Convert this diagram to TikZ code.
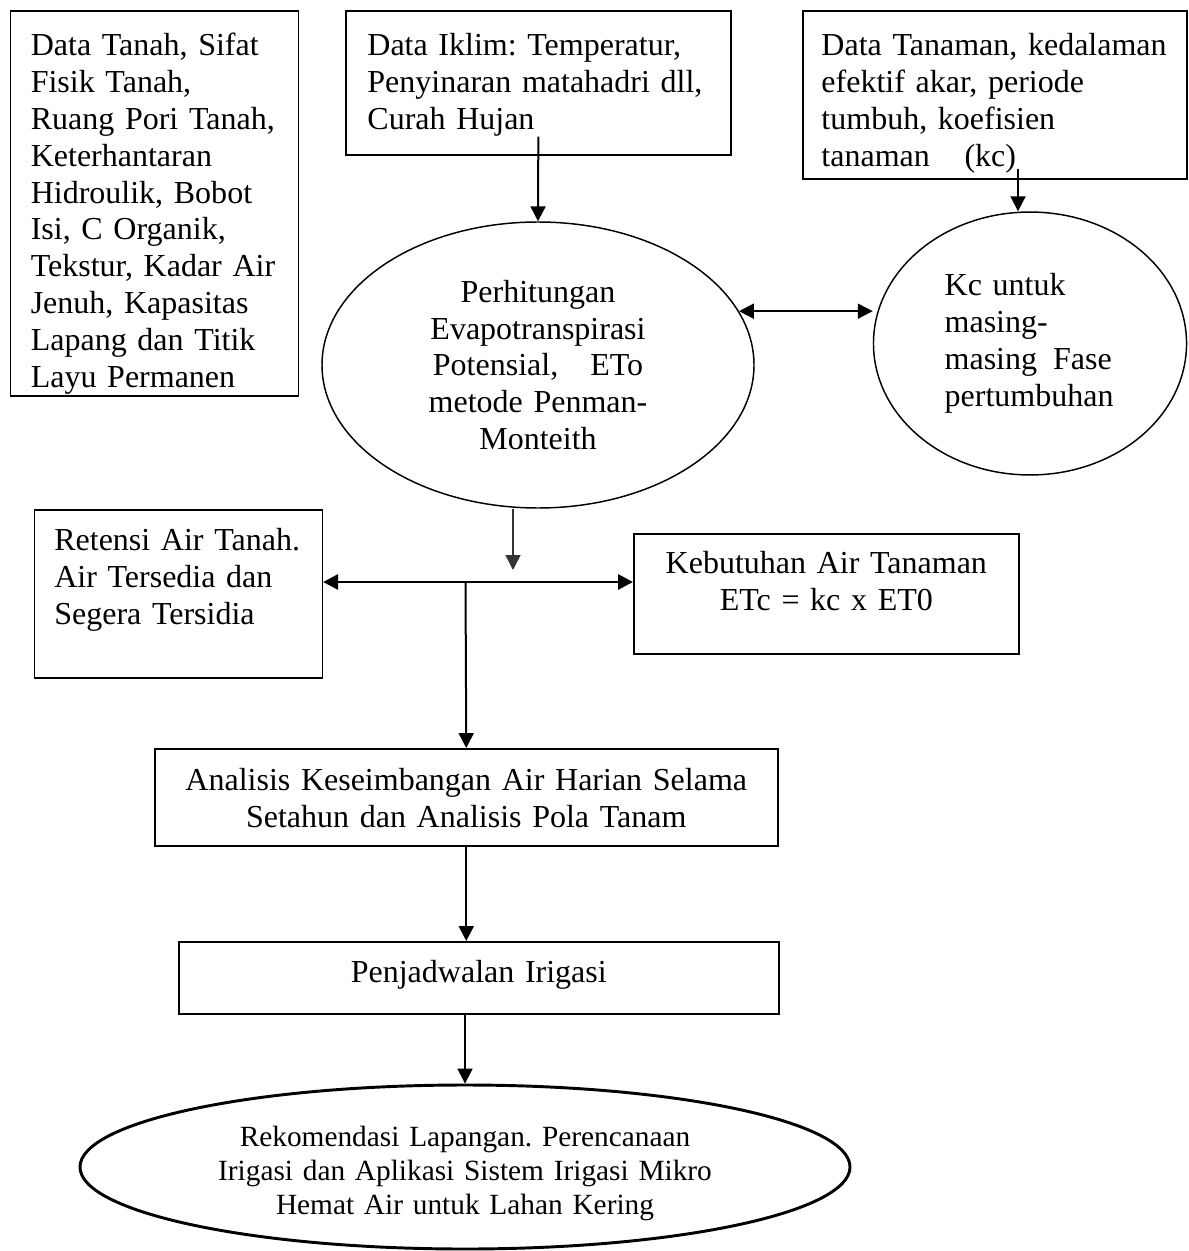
\documentclass[tikz,border=0pt]{standalone}
\usepackage{fontspec}
\setmainfont{Liberation Serif}
\usetikzlibrary{shapes.geometric,arrows.meta,calc}
\frenchspacing

\tikzset{
    databox/.style={draw, line width=0.6pt, rectangle, anchor=north west, align=left, inner ysep=0pt, font=\fontsize{12}{13.8}\selectfont},
    stepbox/.style={databox, align=center},
    calcoval/.style={draw, ellipse, line width=0.55pt, inner sep=0pt, font=\fontsize{12}{13.8}\selectfont},
    flowarrow/.style={line width=0.75pt, -{Triangle[length=5.6pt,width=5.6pt]}},
    bothflow/.style={line width=0.75pt, {Triangle[length=5.6pt,width=5.6pt]}-{Triangle[length=5.6pt,width=5.6pt]}},
}

\begin{document}
\begin{tikzpicture}[x=0.375pt,y=-0.375pt]
        \useasboundingbox (0,0) rectangle (1188,1251);

        %Shape: Rectangle [data tanah]
        \node[databox, text width=92.8pt, inner xsep=7.65pt, text height=16.9pt, text depth=127.5pt] (soil) at (9.6,10) {Data Tanah, Sifat\\ Fisik Tanah,\\ Ruang Pori Tanah,\\ Keterhantaran\\ Hidroulik, Bobot\\ Isi, C Organik,\\ Tekstur, Kadar Air\\ Jenuh, Kapasitas\\ Lapang dan Titik\\ Layu Permanen};
        %Shape: Rectangle [data iklim]
        \node[databox, text width=128.2pt, inner xsep=8.1pt, text height=16.9pt, text depth=37.1pt] (clim) at (345,10) {Data Iklim: Temperatur,\\ Penyinaran matahadri dll,\\ Curah Hujan};
        %Shape: Rectangle [data tanaman]
        \node[databox, text width=130pt, inner xsep=7pt, text height=16.9pt, text depth=46.1pt] (crop) at (802,10) {Data Tanaman, kedalaman\\ efektif akar, periode\\ tumbuh, koefisien\\ tanaman\hspace*{13pt}(kc)};

        %Shape: Ellipse [ETo]
        \node[calcoval, minimum width=162pt, minimum height=107.25pt, text width=100pt, align=center] (eto) at (538,365) {Perhitungan\\ Evapotranspirasi\\ Potensial,\hspace*{12pt}ETo\\ metode Penman-\\ Monteith};
        %Shape: Ellipse [Kc]
        \node[calcoval, minimum width=117.4pt, minimum height=98.6pt, text width=64pt, align=left] (kcphase) at (1030,343.5) {Kc untuk\\ masing-\\ masing\hspace*{6pt}Fase\\ pertumbuhan};

        %Shape: Rectangle [retensi]
        \node[databox, text width=93pt, inner xsep=7.5pt, text height=15.4pt, text depth=47.6pt] (retensi) at (33.5,509) {Retensi Air Tanah.\\ Air Tersedia dan\\ Segera Tersidia};
        %Shape: Rectangle [ETc]
        \node[stepbox, text width=134.4pt, inner xsep=5pt, text height=15pt, text depth=30pt] (etc) at (633,533) {Kebutuhan Air Tanaman\\ ETc = kc x ET0};
        %Shape: Rectangle [analisis]
        \node[stepbox, text width=223.6pt, inner xsep=5pt, text height=15.75pt, text depth=20.6pt] (balance) at (154,748) {Analisis Keseimbangan Air Harian Selama\\ Setahun dan Analisis Pola Tanam};
        %Shape: Rectangle [jadwal]
        \node[stepbox, text width=215pt, inner xsep=5pt, text height=15.4pt, text depth=11.6pt] (sched) at (178,941) {Penjadwalan Irigasi};
        %Shape: Ellipse [rekomendasi]
        \node[calcoval, line width=1.1pt, minimum width=288.75pt, minimum height=61.5pt, text width=190pt, align=center, text height=12.7pt, text depth=27.9pt, font=\fontsize{11}{12.75}\selectfont] (rekom) at (465,1167) {Rekomendasi Lapangan. Perencanaan\\ Irigasi dan Aplikasi Sistem Irigasi Mikro\\ Hemat Air untuk Lahan Kering};

        \coordinate (etodrop) at (513,570);
        \coordinate (hub) at (465.5,582);

        %Straight Lines
        \draw[flowarrow] ($(clim.south)+(0,-19)$) -- (eto.north);
        \draw[flowarrow] ($(crop.south -| kcphase.north)+(-12,-11)$) -- ($(kcphase.north)+(-12,0)$);
        \draw[bothflow] (eto.15) -- (eto.15 -| kcphase.west);
        \draw[flowarrow, line width=0.55pt, draw=black!80] (eto.south -| etodrop) -- (etodrop);
        \draw[bothflow, line width=1.1pt] (retensi.east |- hub) -- (etc.west |- hub);
        \draw[flowarrow] (hub) -- (balance.north);
        \draw[flowarrow] (balance.south) -- (balance.south |- sched.north);
        \draw[flowarrow] (rekom.north |- sched.south) -- (rekom.north);

\end{tikzpicture}
\end{document}
